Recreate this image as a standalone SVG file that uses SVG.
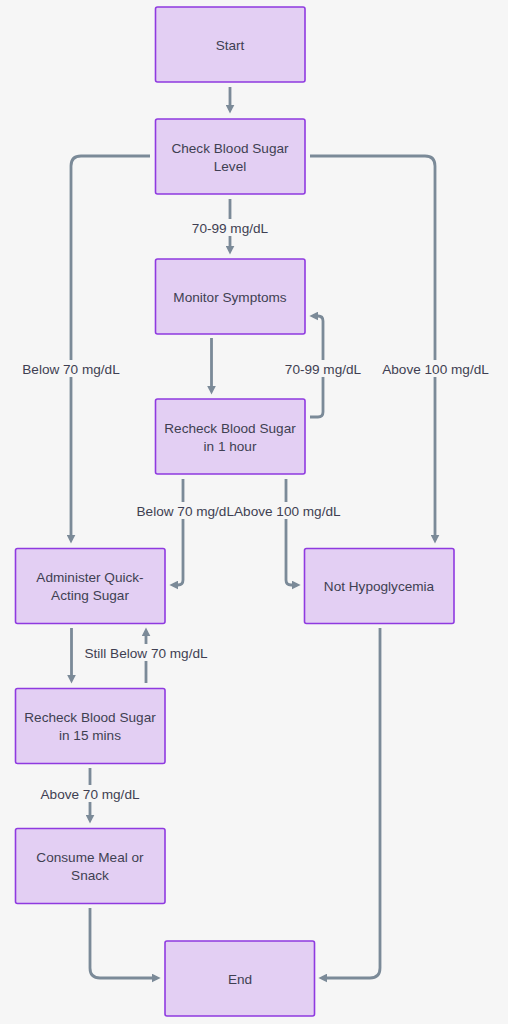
<svg xmlns="http://www.w3.org/2000/svg" width="508" height="1024" viewBox="0 0 508 1024">
<defs>
<marker id="ah" viewBox="0 0 10 10" refX="6" refY="5" markerWidth="9" markerHeight="9" orient="auto-start-reverse" markerUnits="userSpaceOnUse">
<path d="M0,0 L10,5 L0,10 z" fill="#7b8a98"/>
</marker>
<style>
.node rect{fill:#e3cff3;stroke:#8f3ae0;stroke-width:1.6}
.node text,.lbl text{font-family:"Liberation Sans",Arial,sans-serif;font-size:13.6px;fill:#3f3f52;text-anchor:middle;dominant-baseline:central}
.edges path{fill:none;stroke:#7b8a98;stroke-width:2.8;stroke-linecap:butt;marker-end:url(#ah)}
.lbl rect{fill:#f6f6f6}
</style>
</defs>
<rect width="508" height="1024" fill="#f6f6f6"/>
<g class="edges">
<path d="M230,87 V110"/>
<path d="M150,156 H81 Q71,156 71,166 V540"/>
<path d="M310,156 H425 Q435,156 435,166 V540"/>
<path d="M230,199 V251"/>
<path d="M211.5,338 V391"/>
<path d="M310,417 H318 Q323,417 323,412 V321 Q323,316 318,316 H313"/>
<path d="M183,479 V580 Q183,585 178,585 H173"/>
<path d="M286,479 V580 Q286,585 291,585 H297"/>
<path d="M71.5,628 V680"/>
<path d="M146,683 V631"/>
<path d="M90,768 V820"/>
<path d="M90,908 V968 Q90,978 100,978 H157"/>
<path d="M380,628 V968 Q380,978 370,978 H322"/>
</g>
<g class="lbl">
<rect x="188" y="219" width="84" height="17"/><text x="230" y="228">70-99 mg/dL</text>
<rect x="19" y="360" width="104" height="17"/><text x="71" y="369">Below 70 mg/dL</text>
<rect x="281" y="360" width="84" height="17"/><text x="323" y="369">70-99 mg/dL</text>
<rect x="379" y="360" width="113" height="17"/><text x="435.5" y="369">Above 100 mg/dL</text>
<rect x="132" y="502" width="210" height="17"/><text x="234" y="511" style="text-anchor:end">Below 70 mg/dL</text><text x="234" y="511" style="text-anchor:start">Above 100 mg/dL</text>
<rect x="80" y="644" width="132" height="17"/><text x="146" y="653">Still Below 70 mg/dL</text>
<rect x="38" y="785" width="104" height="17"/><text x="90" y="794">Above 70 mg/dL</text>
</g>
<g id="n-start" class="node"><rect x="155.5" y="7" width="149.5" height="75" rx="2"/><text x="230" y="45">Start</text></g>
<g id="n-check" class="node"><rect x="155.5" y="119" width="149.5" height="75" rx="2"/><text x="230" y="148">Check Blood Sugar</text><text x="230" y="166">Level</text></g>
<g id="n-monitor" class="node"><rect x="155.5" y="259" width="149.5" height="75" rx="2"/><text x="230" y="297">Monitor Symptoms</text></g>
<g id="n-recheck1" class="node"><rect x="155.5" y="399" width="149.5" height="75" rx="2"/><text x="230" y="428">Recheck Blood Sugar</text><text x="230" y="446">in 1 hour</text></g>
<g id="n-admin" class="node"><rect x="15.5" y="548.5" width="149.5" height="75" rx="2"/><text x="90" y="577">Administer Quick-</text><text x="90" y="595">Acting Sugar</text></g>
<g id="n-nothypo" class="node"><rect x="304.5" y="548.5" width="149.5" height="75" rx="2"/><text x="379" y="586">Not Hypoglycemia</text></g>
<g id="n-recheck15" class="node"><rect x="15.5" y="688.5" width="149.5" height="75" rx="2"/><text x="90" y="717">Recheck Blood Sugar</text><text x="90" y="735">in 15 mins</text></g>
<g id="n-meal" class="node"><rect x="15.5" y="828.5" width="149.5" height="75" rx="2"/><text x="90" y="857">Consume Meal or</text><text x="90" y="875">Snack</text></g>
<g id="n-end" class="node"><rect x="165" y="941" width="149.5" height="75" rx="2"/><text x="240" y="979">End</text></g>
</svg>
